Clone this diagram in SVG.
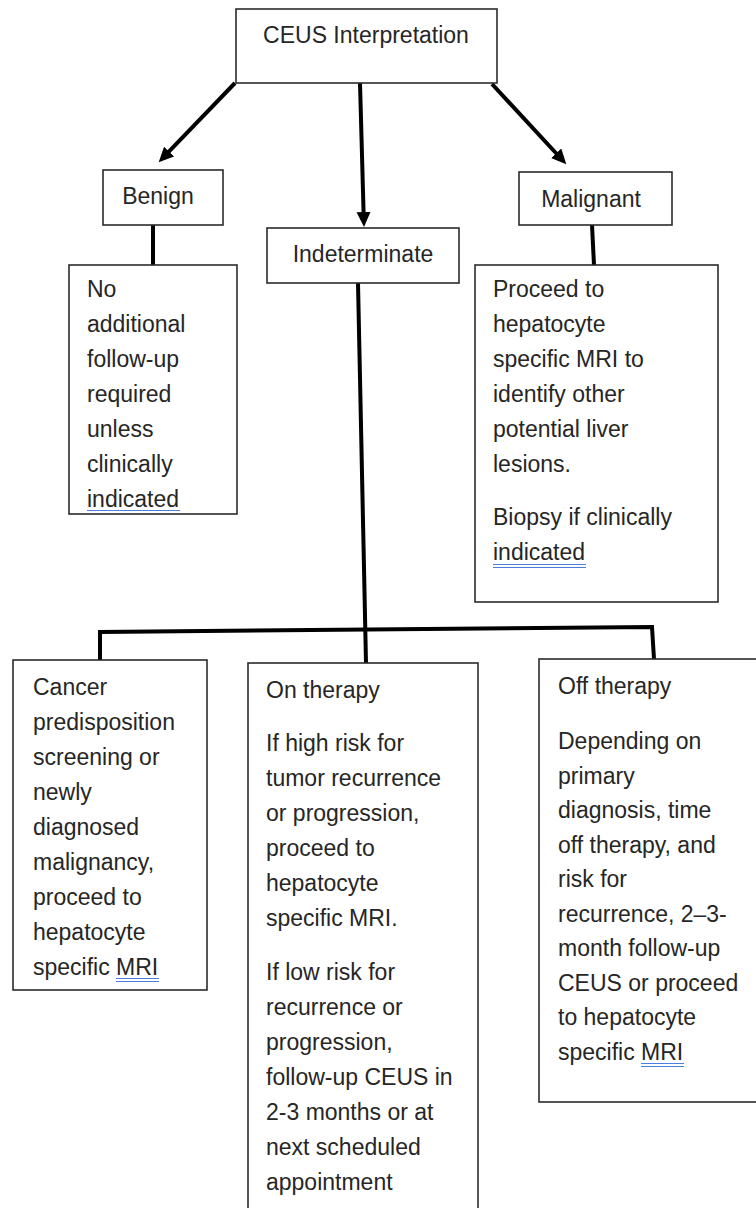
<svg xmlns="http://www.w3.org/2000/svg" width="756" height="1208" viewBox="0 0 756 1208">
<style>
.box{fill:#fff;stroke:#2b2b2b;stroke-width:1.6}
.t{font-family:"Liberation Sans",Arial,sans-serif;font-size:23px;fill:#262626}
.c{text-anchor:middle}
.con{fill:none;stroke:#000;stroke-width:4}
.ul{stroke:#4a7fe0;stroke-width:1.2}
</style>
<defs>
<marker id="ah" markerUnits="userSpaceOnUse" markerWidth="16" markerHeight="15" refX="1" refY="7" orient="auto">
<path d="M0,0 L15,7 L0,14 z" fill="#000"/>
</marker>
</defs>
<g id="connectors">
<line class="con" x1="235" y1="83" x2="168.4" y2="152.2" marker-end="url(#ah)"/>
<line class="con" x1="360" y1="83" x2="363.6" y2="213" marker-end="url(#ah)"/>
<line class="con" x1="492" y1="84" x2="556.8" y2="154" marker-end="url(#ah)"/>
<line class="con" x1="153" y1="225" x2="153" y2="265"/>
<line class="con" x1="592" y1="225" x2="594" y2="265"/>
<line class="con" x1="358" y1="283" x2="366" y2="663"/>
<path class="con" d="M100,660 L100,632 L652,627 L654,659"/>
</g>
<g id="n-ceus">
<rect class="box" x="236" y="9" width="261" height="74"/>
<text class="t c" x="366" y="43">CEUS Interpretation</text>
</g>
<g id="n-benign">
<rect class="box" x="103" y="170" width="120" height="55"/>
<text class="t c" x="158" y="204">Benign</text>
</g>
<g id="n-indeterminate">
<rect class="box" x="267" y="228" width="192" height="55"/>
<text class="t c" x="363" y="262">Indeterminate</text>
</g>
<g id="n-malignant">
<rect class="box" x="519" y="172" width="153" height="53"/>
<text class="t c" x="591" y="207">Malignant</text>
</g>
<g id="n-benign-action">
<rect class="box" x="69" y="265" width="168" height="249"/>
<text class="t" x="87" y="297">No</text>
<text class="t" x="87" y="332">additional</text>
<text class="t" x="87" y="367">follow-up</text>
<text class="t" x="87" y="402">required</text>
<text class="t" x="87" y="437">unless</text>
<text class="t" x="87" y="472">clinically</text>
<text class="t" x="87" y="507">indicated</text>
<line class="ul" x1="87" y1="510.5" x2="180" y2="510.5"/>
</g>
<g id="n-malignant-action">
<rect class="box" x="475" y="265" width="243" height="337"/>
<text class="t" x="493" y="297">Proceed to</text>
<text class="t" x="493" y="332">hepatocyte</text>
<text class="t" x="493" y="367">specific MRI to</text>
<text class="t" x="493" y="402">identify other</text>
<text class="t" x="493" y="437">potential liver</text>
<text class="t" x="493" y="472">lesions.</text>
<text class="t" x="493" y="525">Biopsy if clinically</text>
<text class="t" x="493" y="560">indicated</text>
<line class="ul" x1="493" y1="564.5" x2="586" y2="564.5"/>
<line class="ul" x1="493" y1="567.5" x2="586" y2="567.5"/>
</g>
<g id="n-cancer">
<rect class="box" x="13" y="660" width="194" height="330"/>
<text class="t" x="33" y="695">Cancer</text>
<text class="t" x="33" y="730">predisposition</text>
<text class="t" x="33" y="765">screening or</text>
<text class="t" x="33" y="800">newly</text>
<text class="t" x="33" y="835">diagnosed</text>
<text class="t" x="33" y="870">malignancy,</text>
<text class="t" x="33" y="905">proceed to</text>
<text class="t" x="33" y="940">hepatocyte</text>
<text class="t" x="33" y="975">specific <tspan>MRI</tspan></text>
<line class="ul" x1="116" y1="978.5" x2="159" y2="978.5"/>
<line class="ul" x1="116" y1="981.5" x2="159" y2="981.5"/>
</g>
<g id="n-on-therapy">
<rect class="box" x="248" y="663" width="230" height="550"/>
<text class="t" x="266" y="698">On therapy</text>
<text class="t" x="266" y="751">If high risk for</text>
<text class="t" x="266" y="786">tumor recurrence</text>
<text class="t" x="266" y="821">or progression,</text>
<text class="t" x="266" y="856">proceed to</text>
<text class="t" x="266" y="891">hepatocyte</text>
<text class="t" x="266" y="926">specific MRI.</text>
<text class="t" x="266" y="980">If low risk for</text>
<text class="t" x="266" y="1015">recurrence or</text>
<text class="t" x="266" y="1050">progression,</text>
<text class="t" x="266" y="1085">follow-up CEUS in</text>
<text class="t" x="266" y="1120">2-3 months or at</text>
<text class="t" x="266" y="1155">next scheduled</text>
<text class="t" x="266" y="1190">appointment</text>
</g>
<g id="n-off-therapy">
<rect class="box" x="539" y="659" width="220" height="443"/>
<text class="t" x="558" y="694">Off therapy</text>
<text class="t" x="558" y="749">Depending on</text>
<text class="t" x="558" y="784">primary</text>
<text class="t" x="558" y="818">diagnosis, time</text>
<text class="t" x="558" y="853">off therapy, and</text>
<text class="t" x="558" y="887">risk for</text>
<text class="t" x="558" y="922">recurrence, 2–3-</text>
<text class="t" x="558" y="956">month follow-up</text>
<text class="t" x="558" y="991">CEUS or proceed</text>
<text class="t" x="558" y="1025">to hepatocyte</text>
<text class="t" x="558" y="1060">specific <tspan>MRI</tspan></text>
<line class="ul" x1="641" y1="1063.5" x2="684" y2="1063.5"/>
<line class="ul" x1="641" y1="1066.5" x2="684" y2="1066.5"/>
</g>
</svg>
